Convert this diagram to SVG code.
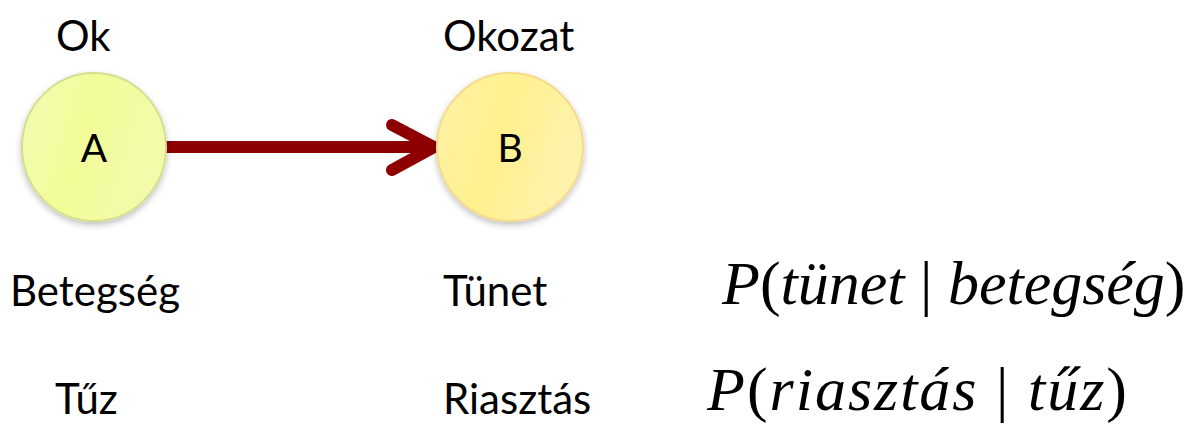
<svg xmlns="http://www.w3.org/2000/svg" width="1199" height="424" viewBox="0 0 1199 424">
<style>
.lbl{font-family:Lato,"Liberation Sans",sans-serif;font-size:42px;fill:#000}
.node-t{font-family:Lato,"Liberation Sans",sans-serif;font-size:39px;fill:#000;text-anchor:middle}
.f{font-family:"Liberation Serif",serif;font-size:62px;fill:#000}
.i{font-style:italic}
</style>
<defs>
<linearGradient id="ga" x1="0" y1="0" x2="1" y2="0.3">
<stop offset="0" stop-color="#f4fcb4"/><stop offset="0.5" stop-color="#f2fc98"/><stop offset="1" stop-color="#f3fbaa"/>
</linearGradient>
<linearGradient id="gb" x1="0" y1="0" x2="1" y2="0.3">
<stop offset="0" stop-color="#fff2a8"/><stop offset="0.5" stop-color="#fff08e"/><stop offset="1" stop-color="#fff3ac"/>
</linearGradient>
<filter id="sh" x="-20%" y="-20%" width="140%" height="150%">
<feDropShadow dx="0" dy="3" stdDeviation="3" flood-color="#000" flood-opacity="0.25"/>
</filter>
</defs>
<g id="connectors">
<line x1="166" y1="147" x2="432" y2="147" stroke="#8e0000" stroke-width="12"/>
<polyline points="392,125 434,147 392,170" fill="none" stroke="#8e0000" stroke-width="12" stroke-linecap="round" stroke-linejoin="miter"/>
</g>
<g id="nodeA">
<ellipse cx="94" cy="147" rx="72" ry="74" fill="url(#ga)" stroke="#d3df8e" stroke-width="2" filter="url(#sh)"/>
<text class="node-t" x="94" y="162">A</text>
</g>
<g id="nodeB">
<ellipse cx="510" cy="147" rx="73" ry="74" fill="url(#gb)" stroke="#f7db8c" stroke-width="2" filter="url(#sh)"/>
<text class="node-t" x="510" y="162">B</text>
</g>
<g id="labels">
<text class="lbl" x="56" y="51">Ok</text>
<text class="lbl" x="443" y="51">Okozat</text>
<text class="lbl" x="10" y="306">Betegség</text>
<text class="lbl" x="443" y="306">Tünet</text>
<text class="lbl" x="55" y="414">Tűz</text>
<text class="lbl" x="443" y="414">Riasztás</text>
</g>
<g id="formulas">
<text class="f" x="722" y="304"><tspan class="i">P</tspan>(<tspan class="i">tünet</tspan> | <tspan class="i">betegség</tspan>)</text>
<text class="f" x="707" y="410" letter-spacing="2"><tspan class="i">P</tspan>(<tspan class="i">riasztás</tspan> | <tspan class="i">tűz</tspan>)</text>
</g>
</svg>
